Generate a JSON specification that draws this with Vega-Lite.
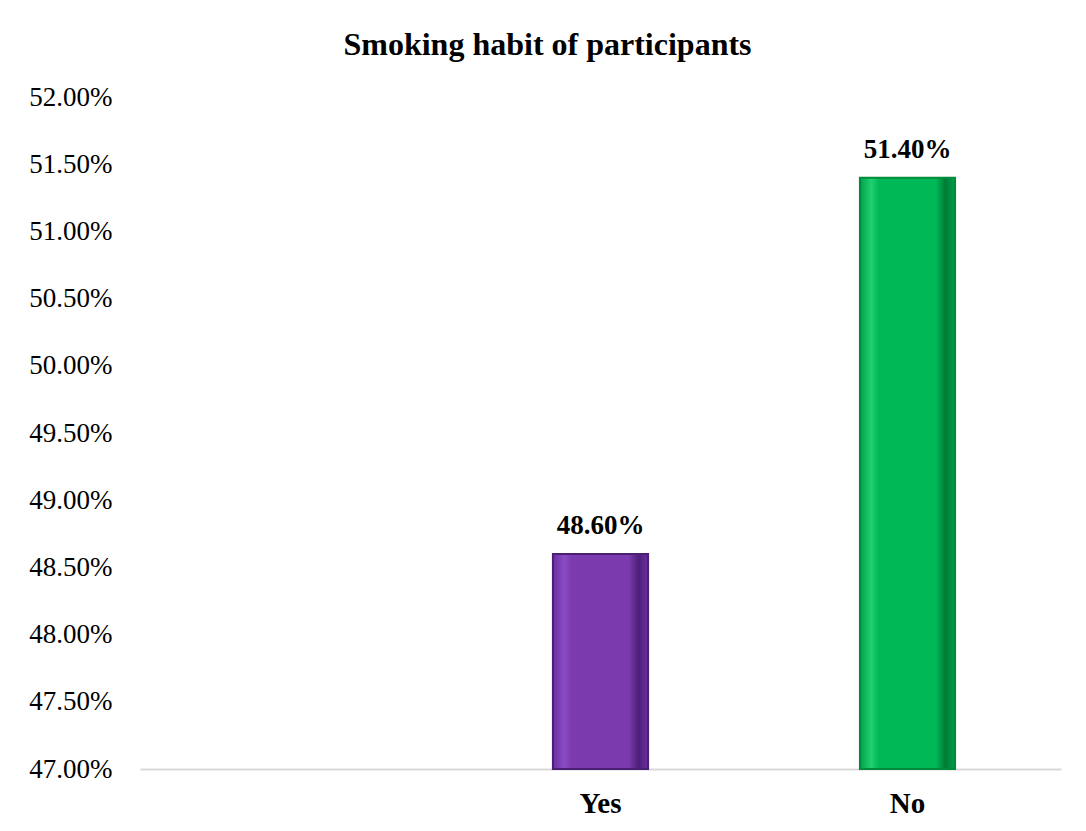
{
  "$schema": "https://vega.github.io/schema/vega-lite/v6.json",
  "autosize": {"type": "none"},
  "padding": {"left": 140, "top": 97, "right": 25, "bottom": 62},
  "width": 921,
  "height": 672,
  "background": "white",
  "title": {
    "text": "Smoking habit of participants",
    "font": "Liberation Serif",
    "fontSize": 32,
    "fontWeight": "bold",
    "color": "black",
    "anchor": "middle",
    "dx": -53,
    "offset": 21
  },
  "data": {
    "values": [
      {"answer": "Yes", "share": 0.486},
      {"answer": "No", "share": 0.514}
    ]
  },
  "encoding": {
    "x": {
      "field": "answer",
      "type": "nominal",
      "sort": null,
      "scale": {"domain": ["", "Yes", "No"], "paddingInner": 0.69, "paddingOuter": 0.345},
      "axis": {
        "title": null,
        "labelAngle": 0,
        "labelFont": "Liberation Serif",
        "labelFontSize": 29,
        "labelFontWeight": "bold",
        "labelColor": "black",
        "labelPadding": 20,
        "ticks": false,
        "domainColor": "#d9d9d9",
        "domainWidth": 2
      }
    },
    "y": {
      "field": "share",
      "type": "quantitative",
      "scale": {"domain": [0.47, 0.52], "zero": false, "nice": false},
      "axis": {
        "title": null,
        "format": ".2%",
        "values": [0.47, 0.475, 0.48, 0.485, 0.49, 0.495, 0.5, 0.505, 0.51, 0.515, 0.52],
        "labelFont": "Liberation Serif",
        "labelFontSize": 27,
        "labelColor": "black",
        "labelPadding": 28,
        "grid": false,
        "ticks": false,
        "domain": false
      }
    }
  },
  "layer": [
    {
      "transform": [{"filter": "datum.answer === 'Yes'"}],
      "mark": {
        "type": "bar",
        "stroke": "#4a1f73",
        "strokeWidth": 2,
        "fill": {
          "x1": 0, "y1": 0, "x2": 1, "y2": 0,
          "gradient": "linear",
          "stops": [
            {"offset": 0, "color": "#6a2fa0"},
            {"offset": 0.12, "color": "#8a4cc4"},
            {"offset": 0.2, "color": "#7b3aad"},
            {"offset": 0.8, "color": "#7b3aad"},
            {"offset": 0.9, "color": "#4d1f78"},
            {"offset": 1, "color": "#6a2fa0"}
          ]
        }
      },
      "encoding": {"y2": {"datum": 0.47}}
    },
    {
      "transform": [{"filter": "datum.answer === 'No'"}],
      "mark": {
        "type": "bar",
        "stroke": "#008a3c",
        "strokeWidth": 2,
        "fill": {
          "x1": 0, "y1": 0, "x2": 1, "y2": 0,
          "gradient": "linear",
          "stops": [
            {"offset": 0, "color": "#00a04a"},
            {"offset": 0.12, "color": "#20d070"},
            {"offset": 0.2, "color": "#00b856"},
            {"offset": 0.8, "color": "#00b856"},
            {"offset": 0.9, "color": "#007a34"},
            {"offset": 1, "color": "#00a04a"}
          ]
        }
      },
      "encoding": {"y2": {"datum": 0.47}}
    },
    {
      "mark": {
        "type": "text",
        "baseline": "bottom",
        "dy": -14,
        "font": "Liberation Serif",
        "fontSize": 27,
        "fontWeight": "bold",
        "color": "black"
      },
      "encoding": {"text": {"field": "share", "type": "quantitative", "format": ".2%"}}
    }
  ],
  "config": {"view": {"stroke": null}}
}
